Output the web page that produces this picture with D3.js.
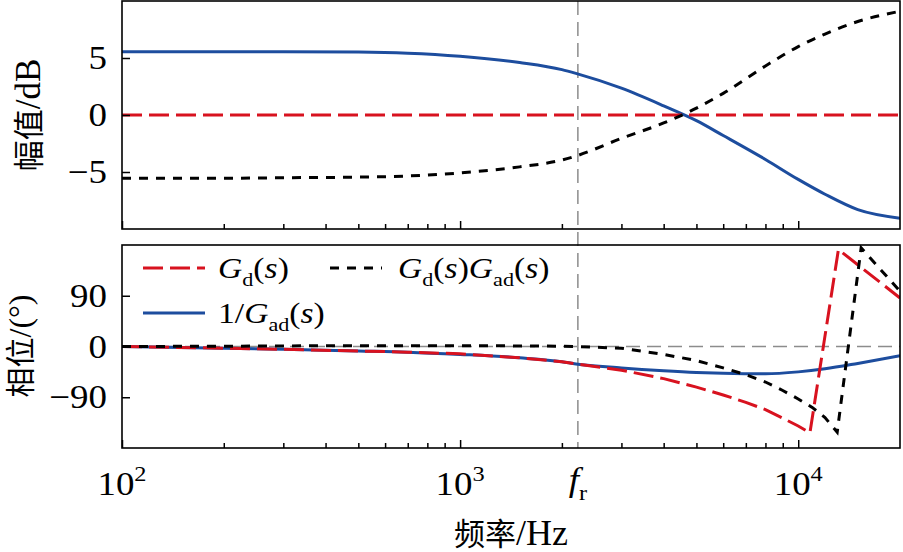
<!DOCTYPE html>
<html><head><meta charset="utf-8">
<script src="https://cdn.jsdelivr.net/npm/d3@7"></script>
<style>
body{margin:0;background:#fff;}
svg{display:block;}
text{font-family:"Liberation Serif","Times New Roman","Noto Sans CJK SC",serif;fill:#000;}
</style>
</head><body>
<svg id="c" width="903" height="552"></svg>
<script>
// ---------------- data ----------------
const freqMag = [100,200,300,500,700,1000,1500,2000,2200,3000,4000,5000,6000,8000,10000,12000,15000,20000];
const magGd      = [0,0,0,0,0,0,0,0,0,0,0,0,0,0,0,0,0,0];
const magInvGad  = [5.55,5.55,5.55,5.52,5.42,5.15,4.6,3.98,3.65,2.35,0.8,-0.5,-1.8,-3.9,-5.65,-6.95,-8.3,-9.05];
const magGdGad   = [-5.55,-5.55,-5.5,-5.45,-5.35,-5.08,-4.55,-3.95,-3.6,-2.05,-0.7,0.6,1.9,4.3,6.0,7.1,8.2,9.1];

const freqPhGd   = [100,200,300,500,700,1000,1500,2000,2200,3000,4000,5000,6000,7000,8000,9000,10000,10830,13150,20000];
const phGd       = [0,-3,-5,-8,-10,-13,-20,-27,-31,-42,-57,-72,-86,-99,-112,-127,-141,-153,172,86];
const freqPhGdGad= [100,200,300,500,700,1000,1500,2000,2200,3000,4000,5000,6000,7000,8000,9000,10000,11000,12000,13040,15350,20000];
const phGdGad    = [0,0.5,1,1.5,1.5,1.5,1,0.5,0,-3,-14,-25,-38,-50,-63,-78,-93,-108,-126,-152,175,98];
const freqPhInv  = [100,200,300,500,700,1000,1500,2000,2200,3000,4000,5000,6000,8000,10000,12000,15000,20000];
const phInvGad   = [0,-3,-5,-8,-10,-14,-20,-27,-31,-38,-43,-46,-47.5,-48.5,-45,-39.5,-30,-16.5];

const fr = 2230;
const xMajor = [100,1000,10000];
const xExp = ["2","3","4"];
const xMinor = [200,300,400,500,600,700,800,900,2000,3000,4000,5000,6000,7000,8000,9000];
const magTicks = [-5,0,5];
const magTickLabels = ["\u22125","0","5"];
const phTicks = [-90,0,90];
const phTickLabels = ["\u221290","0","90"];

// ---------------- setup ----------------
const RED="#d8121f", BLUE="#1d4d9e", GRAY="#8c8c8c";
const SX = 1.12;
const svg = d3.select("#c");
const x = d3.scaleLog().domain([100,20000]).range([122,900]);
const yMag = d3.scaleLinear().domain([-10,10]).range([229,1]);
const yPh = d3.scaleLinear().domain([-180,180]).range([448,245]);

const defs = svg.append("defs");
defs.append("clipPath").attr("id","clipTop").append("rect").attr("x",122).attr("y",1).attr("width",778).attr("height",228);
defs.append("clipPath").attr("id","clipBot").append("rect").attr("x",122).attr("y",245).attr("width",778).attr("height",203);

// gray reference lines
svg.append("line").attr("x1",x(fr)).attr("x2",x(fr)).attr("y1",1).attr("y2",448)
  .attr("stroke",GRAY).attr("stroke-width",1.5).attr("stroke-dasharray","14,7");
svg.append("line").attr("x1",122).attr("x2",900).attr("y1",yPh(0)).attr("y2",yPh(0))
  .attr("stroke",GRAY).attr("stroke-width",1.5).attr("stroke-dasharray","14,7");

function zip(a,b){return a.map((v,i)=>[v,b[i]]);}
const lineMag = d3.line().x(d=>x(d[0])).y(d=>yMag(d[1])).curve(d3.curveMonotoneX);
const linePhS = d3.line().x(d=>x(d[0])).y(d=>yPh(d[1])).curve(d3.curveMonotoneX);
const linePhL = d3.line().x(d=>x(d[0])).y(d=>yPh(d[1]));

const gTop = svg.append("g").attr("clip-path","url(#clipTop)");
gTop.append("path").attr("d",lineMag(zip(freqMag,magInvGad))).attr("fill","none").attr("stroke",BLUE).attr("stroke-width",3);
gTop.append("path").attr("d",lineMag(zip(freqMag,magGd))).attr("fill","none").attr("stroke",RED).attr("stroke-width",3).attr("stroke-dasharray","20,7");
gTop.append("path").attr("d",lineMag(zip(freqMag,magGdGad))).attr("fill","none").attr("stroke","#000").attr("stroke-width",3).attr("stroke-dasharray","9,8");

const gBot = svg.append("g").attr("clip-path","url(#clipBot)");
gBot.append("path").attr("d",linePhS(zip(freqPhInv,phInvGad))).attr("fill","none").attr("stroke",BLUE).attr("stroke-width",3);
gBot.append("path").attr("d",linePhL(zip(freqPhGd,phGd))).attr("fill","none").attr("stroke",RED).attr("stroke-width",3).attr("stroke-dasharray","20,7");
gBot.append("path").attr("d",linePhL(zip(freqPhGdGad,phGdGad))).attr("fill","none").attr("stroke","#000").attr("stroke-width",3).attr("stroke-dasharray","9,8");

// frames
svg.append("rect").attr("x",122).attr("y",1).attr("width",778).attr("height",228).attr("fill","none").attr("stroke","#000").attr("stroke-width",1.6);
svg.append("rect").attr("x",122).attr("y",245).attr("width",778).attr("height",203).attr("fill","none").attr("stroke","#000").attr("stroke-width",1.6);

// x ticks on both panels
function xTicks(yPos){
  svg.append("g").attr("transform",`translate(0,${yPos})`)
    .call(d3.axisBottom(x).tickValues(xMajor).tickSize(-8).tickFormat(""))
    .call(s=>{s.select(".domain").remove(); s.selectAll("line").attr("stroke-width",1.5);});
  svg.append("g").attr("transform",`translate(0,${yPos})`)
    .call(d3.axisBottom(x).tickValues(xMinor).tickSize(-5).tickFormat(""))
    .call(s=>{s.select(".domain").remove(); s.selectAll("line").attr("stroke-width",1.5);});
}
xTicks(229); xTicks(448);

// y axes
function yAxis(scale, ticks, labels){
  svg.append("g").attr("transform","translate(122,0)")
    .call(d3.axisLeft(scale).tickValues(ticks).tickSize(-8).tickPadding(15).tickFormat((d,i)=>labels[i]))
    .call(s=>{
      s.attr("font-family",null).attr("font-size",null);
      s.select(".domain").remove();
      s.selectAll("line").attr("stroke-width",1.5);
      s.selectAll("text").attr("font-size",33).each(function(){
        const t=d3.select(this); const xx=+t.attr("x");
        t.attr("x",0).attr("transform",`translate(${xx},0) scale(${SX},1)`);
      });
    });
}
yAxis(yMag, magTicks, magTickLabels);
yAxis(yPh, phTicks, phTickLabels);

// rich text helper
function rich(parent, tx, ty, parts, size, anchor){
  const t = parent.append("text").attr("transform",`translate(${tx},${ty}) scale(${SX},1)`)
    .attr("font-size",size).attr("text-anchor",anchor||"start");
  let shift=0;
  parts.forEach(p=>{
    const ts=t.append("tspan").text(p.t);
    const target = p.sub ? size*0.28 : p.sup ? -size*0.42 : 0;
    ts.attr("dy", target-shift); shift=target;
    if(p.sub||p.sup) ts.attr("font-size", size*0.66);
    if(p.it) ts.attr("font-style","italic");
  });
  return t;
}

// x tick labels
xMajor.forEach((v,i)=>{
  rich(svg, x(v), 495, [{t:"10"},{t:xExp[i],sup:true}], 33, "middle");
});
rich(svg, x(fr), 491, [{t:"f",it:true},{t:"r",sub:true}], 33, "middle");

// axis titles
svg.append("text").attr("transform","translate(511,545)").attr("text-anchor","middle")
  .call(t=>{t.append("tspan").attr("font-size",31).text("频率");
            t.append("tspan").attr("font-size",36).text("/Hz");});
svg.append("text").attr("transform","translate(40,115) rotate(-90)").attr("text-anchor","middle")
  .call(t=>{t.append("tspan").attr("font-size",31).text("幅值");
            t.append("tspan").attr("font-size",35).text("/dB");});
svg.append("text").attr("transform","translate(31,346) rotate(-90)").attr("text-anchor","middle")
  .call(t=>{t.append("tspan").attr("font-size",30).text("相位");
            t.append("tspan").attr("font-size",32).text("/(°)");});

// legend
const lg = svg.append("g");
lg.append("line").attr("x1",143).attr("x2",205).attr("y1",268).attr("y2",268).attr("stroke",RED).attr("stroke-width",3).attr("stroke-dasharray","20,7");
lg.append("line").attr("x1",330).attr("x2",382).attr("y1",268).attr("y2",268).attr("stroke","#000").attr("stroke-width",3).attr("stroke-dasharray","9,8");
lg.append("line").attr("x1",143).attr("x2",205).attr("y1",313).attr("y2",313).attr("stroke",BLUE).attr("stroke-width",3);
rich(lg, 218, 278, [{t:"G",it:true},{t:"d",sub:true},{t:"("},{t:"s",it:true},{t:")"}], 30);
rich(lg, 398, 278, [{t:"G",it:true},{t:"d",sub:true},{t:"("},{t:"s",it:true},{t:")"},{t:"G",it:true},{t:"ad",sub:true},{t:"("},{t:"s",it:true},{t:")"}], 30);
rich(lg, 218, 323, [{t:"1/"},{t:"G",it:true},{t:"ad",sub:true},{t:"("},{t:"s",it:true},{t:")"}], 30);
</script>
</body></html>
